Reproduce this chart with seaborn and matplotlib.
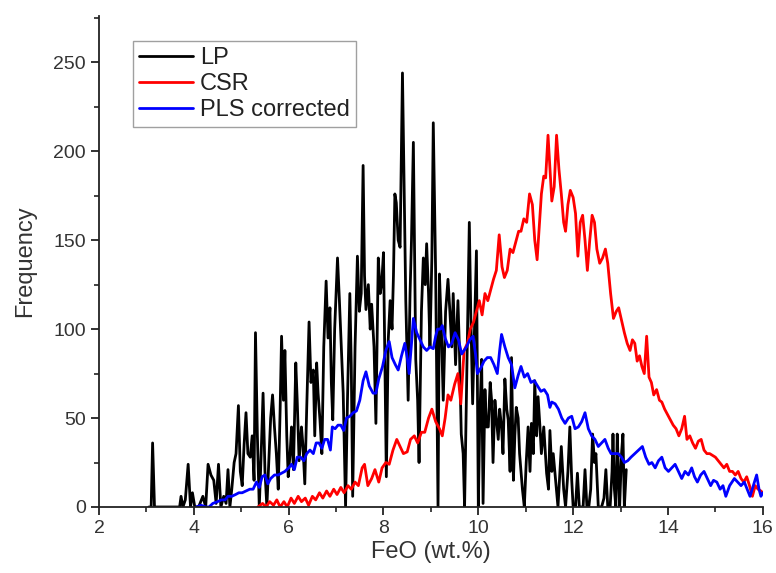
import numpy as np
import pandas as pd
import matplotlib
matplotlib.use("Agg")
import matplotlib.pyplot as plt
import seaborn as sns
from matplotlib.ticker import MultipleLocator

# ---------------- data ----------------
lp_x = [3.05,3.10,3.13,3.17,3.70,3.73,3.77,3.82,3.88,3.93,3.97,4.02,4.10,4.19,4.25,4.30,4.36,4.42,4.47,4.52,
        4.57,4.63,4.68,4.72,4.76,4.80,4.85,4.89,4.94,4.98,5.02,5.06,5.10,5.14,5.19,5.23,5.27,5.30,5.34,5.38,
        5.42,5.46,5.50,5.54,5.58,5.62,5.66,5.70,5.74,5.78,5.82,5.85,5.89,5.92,5.96,5.99,6.03,6.06,6.10,6.15,
        6.18,6.22,6.27,6.30,6.34,6.38,6.43,6.47,6.52,6.55,6.59,6.62,6.66,6.70,6.74,6.79,6.83,6.87,6.90,6.93,
        6.97,7.03,7.07,7.11,7.15,7.20,7.24,7.29,7.32,7.35,7.40,7.45,7.49,7.53,7.57,7.60,7.63,7.68,7.72,7.75,
        7.80,7.84,7.89,7.93,7.96,8.00,8.03,8.06,8.10,8.14,8.18,8.21,8.24,8.27,8.31,8.35,8.40,8.44,8.47,8.52,
        8.56,8.59,8.63,8.68,8.72,8.75,8.80,8.84,8.88,8.91,8.95,8.98,9.02,9.05,9.10,9.15,9.18,9.22,9.26,9.31,
        9.36,9.40,9.44,9.47,9.52,9.57,9.60,9.64,9.68,9.71,9.76,9.81,9.84,9.88,9.92,9.96,10.00,10.03,10.07,10.10,
        10.14,10.17,10.21,10.25,10.28,10.31,10.35,10.38,10.42,10.45,10.49,10.52,10.56,10.60,10.63,10.67,10.70,10.74,10.77,10.80,
        10.84,10.87,10.93,10.97,11.01,11.05,11.09,11.12,11.16,11.19,11.23,11.26,11.30,11.33,11.38,11.44,11.48,11.51,11.55,11.58,
        11.63,11.68,11.72,11.75,11.80,11.84,11.89,11.93,11.97,12.00,12.05,12.09,12.13,12.17,12.21,12.25,12.29,12.33,12.37,12.41,
        12.45,12.48,12.53,12.60,12.65,12.69,12.73,12.78,12.82,12.84,12.87,12.90,12.93,12.96,12.98,13.02,13.05,13.08,13.12]
lp_y = [0,0,36,0,0,6,0,4,24,0,8,0,0,6,0,24,18,15,2,24,
        0,6,2,21,0,10,25,30,57,20,12,35,53,30,28,40,15,98,40,0,
        30,64,20,0,25,50,63,45,30,10,55,96,60,88,40,17,30,45,21,81,
        60,26,45,35,13,55,104,70,77,40,81,64,49,30,90,127,95,112,70,49,
        100,140,116,90,64,0,60,120,80,6,90,141,110,120,192,130,111,125,100,114,
        90,47,140,120,125,143,80,17,94,116,100,130,176,171,150,146,244,170,116,60,
        120,150,205,83,60,25,110,140,125,148,120,90,140,216,131,0,131,100,60,110,
        128,110,90,120,80,116,90,41,30,0,80,160,110,58,100,144,0,49,83,2,
        66,45,45,70,60,25,60,50,38,55,45,30,72,55,49,20,84,15,40,56,
        50,30,10,0,25,45,20,47,30,71,40,62,45,30,45,19,10,43,20,30,
        15,0,20,34,10,0,20,45,15,0,0,19,0,0,0,21,0,0,10,41,
        25,30,0,0,5,21,0,0,20,41,10,0,41,15,0,30,41,0,21]

csr_x = [5.35,5.45,5.52,5.60,5.68,5.75,5.82,5.90,5.97,6.05,6.12,6.20,6.27,6.35,6.42,6.50,6.57,6.65,6.72,6.80,
         6.87,6.95,7.02,7.10,7.17,7.25,7.32,7.40,7.47,7.55,7.60,7.67,7.75,7.82,7.90,7.97,8.05,8.12,8.20,8.28,
         8.35,8.42,8.50,8.57,8.65,8.72,8.80,8.87,8.95,9.02,9.10,9.18,9.24,9.30,9.36,9.42,9.50,9.57,9.63,9.70,
         9.77,9.83,9.90,9.96,10.02,10.08,10.14,10.20,10.26,10.32,10.38,10.44,10.50,10.55,10.61,10.67,10.73,10.79,10.85,10.90,
         10.96,11.02,11.08,11.14,11.19,11.24,11.29,11.33,11.38,11.42,11.47,11.51,11.55,11.60,11.65,11.70,11.75,11.80,11.84,11.89,
         11.94,12.00,12.05,12.10,12.15,12.20,12.25,12.30,12.35,12.40,12.45,12.50,12.56,12.62,12.68,12.73,12.79,12.85,12.91,12.96,
         13.02,13.08,13.14,13.20,13.25,13.30,13.35,13.40,13.45,13.50,13.55,13.60,13.65,13.70,13.76,13.82,13.87,13.93,13.99,14.05,
         14.11,14.17,14.23,14.29,14.35,14.40,14.46,14.52,14.58,14.64,14.70,14.76,14.82,14.88,14.94,15.00,15.06,15.12,15.18,15.24,
         15.30,15.36,15.42,15.48,15.54,15.60,15.66,15.72,15.78,15.84,15.90,15.96,16.00]
csr_y = [0,2,0,3,1,4,0,3,0,5,2,6,3,5,1,6,4,8,5,9,
         6,10,7,11,8,12,10,14,12,22,24,12,16,21,14,22,25,24,32,38,
         34,30,31,38,40,36,42,42,50,55,48,44,40,50,63,60,69,75,58,88,
         92,100,104,110,116,108,120,116,122,128,133,153,135,129,133,145,143,149,155,155,
         162,160,176,170,150,139,160,176,186,185,209,190,172,180,209,190,176,160,155,170,
         178,174,165,141,160,164,150,133,150,164,160,145,137,140,145,137,120,106,110,112,
         105,98,92,88,94,92,82,85,79,75,96,73,70,63,66,60,59,55,52,49,
         46,44,40,44,51,38,40,36,33,37,38,32,30,30,29,28,26,24,22,24,
         20,20,18,20,16,14,17,12,6,12,10,9,8]

pls_x = [4.05,4.15,4.25,4.32,4.40,4.50,4.58,4.66,4.72,4.80,4.88,4.95,5.02,5.10,5.18,5.25,5.32,5.38,5.44,5.50,
         5.56,5.62,5.70,5.78,5.85,5.92,6.00,6.06,6.12,6.18,6.25,6.32,6.38,6.45,6.52,6.58,6.64,6.70,6.76,6.82,
         6.88,6.92,6.98,7.04,7.10,7.16,7.22,7.29,7.36,7.43,7.50,7.57,7.63,7.70,7.78,7.84,7.90,7.98,8.05,8.12,
         8.18,8.25,8.31,8.38,8.45,8.50,8.54,8.60,8.63,8.70,8.77,8.84,8.91,8.98,9.05,9.10,9.14,9.20,9.24,9.30,
         9.37,9.44,9.51,9.58,9.65,9.70,9.75,9.82,9.89,9.94,9.98,10.05,10.12,10.19,10.26,10.33,10.40,10.45,10.49,10.56,
         10.63,10.70,10.77,10.84,10.90,10.97,11.04,11.11,11.18,11.25,11.32,11.39,11.46,11.51,11.55,11.62,11.69,11.76,11.83,11.90,
         11.97,12.04,12.11,12.18,12.25,12.32,12.39,12.46,12.53,12.60,12.67,12.74,12.80,12.88,12.95,13.02,13.08,13.15,13.22,13.30,
         13.38,13.46,13.53,13.60,13.66,13.73,13.80,13.87,13.94,14.01,14.08,14.15,14.22,14.29,14.36,14.43,14.50,14.56,14.62,14.69,
         14.76,14.83,14.90,14.96,15.03,15.10,15.16,15.22,15.30,15.40,15.47,15.54,15.61,15.67,15.73,15.80,15.87,15.92,15.96,16.00]
pls_y = [0,1,0,0,2,3,4,4,6,6,7,8,8,9,10,10,14,11,17,18,
         13,16,18,18,19,20,22,24,21,28,28,26,30,32,30,36,36,33,38,38,
         32,45,44,46,46,43,50,51,53,54,60,71,76,68,64,64,72,79,88,93,
         84,80,77,85,92,84,75,95,106,98,94,90,88,90,89,96,100,100,102,95,
         90,92,98,94,86,88,90,94,96,86,75,78,82,84,84,80,75,88,97,90,
         84,80,67,74,79,73,75,70,71,68,65,66,63,56,59,58,55,50,47,50,
         51,44,45,48,53,44,40,38,34,36,38,33,30,30,30,28,25,26,28,30,
         32,34,28,24,25,22,26,28,22,20,22,24,20,16,20,18,22,17,14,18,
         20,16,12,15,14,10,12,6,12,16,14,12,14,10,6,12,18,10,6,8]

series_names = ["LP", "CSR", "PLS corrected"]
series_colors = ["#000000", "#ff0000", "#0000ff"]

df = pd.concat([
    pd.DataFrame({"FeO": lp_x, "Frequency": lp_y, "Series": "LP"}),
    pd.DataFrame({"FeO": csr_x, "Frequency": csr_y, "Series": "CSR"}),
    pd.DataFrame({"FeO": pls_x, "Frequency": pls_y, "Series": "PLS corrected"}),
], ignore_index=True)

# ---------------- style ----------------
sns.set_style("ticks")
plt.rcParams["font.family"] = ["Liberation Sans", "DejaVu Sans"]

fig = plt.figure(figsize=(7.76, 5.73), dpi=100)
ax = fig.add_axes([0.1276, 0.1152, 0.8554, 0.8568])

sns.lineplot(data=df, x="FeO", y="Frequency", hue="Series", hue_order=series_names,
             palette=dict(zip(series_names, series_colors)), estimator=None, sort=False,
             linewidth=2.0, ax=ax)

ax.set_xlim(2, 16)
ax.set_ylim(0, 276)
ax.xaxis.set_major_locator(MultipleLocator(2))
ax.xaxis.set_minor_locator(MultipleLocator(1))
ax.yaxis.set_major_locator(MultipleLocator(50))
ax.yaxis.set_minor_locator(MultipleLocator(25))

for s in ["top", "right"]:
    ax.spines[s].set_visible(False)
for s in ["left", "bottom"]:
    ax.spines[s].set_linewidth(1.3)
    ax.spines[s].set_color("#222222")

ax.tick_params(which="major", direction="out", length=6, width=1.3, labelsize=14, colors="#222222")
ax.tick_params(which="minor", direction="out", length=3.5, width=1.2, colors="#222222")
ax.tick_params(axis="both", labelcolor="#333333")

ax.set_xlabel("FeO (wt.%)", fontsize=17, color="#333333", labelpad=3)
ax.set_ylabel("Frequency", fontsize=17, color="#333333", labelpad=12)

handles, labels = ax.get_legend_handles_labels()
leg = ax.legend(handles, labels, loc="upper left", bbox_to_anchor=(0.051, 0.949),
                fontsize=17, frameon=True, fancybox=False, edgecolor="#888888",
                handlelength=2.3, handletextpad=0.3, labelspacing=0.18,
                borderpad=0.25, borderaxespad=0)
leg.get_frame().set_linewidth(1.0)
for t in leg.get_texts():
    t.set_color("#222222")

fig.savefig("out.png", dpi=100)
